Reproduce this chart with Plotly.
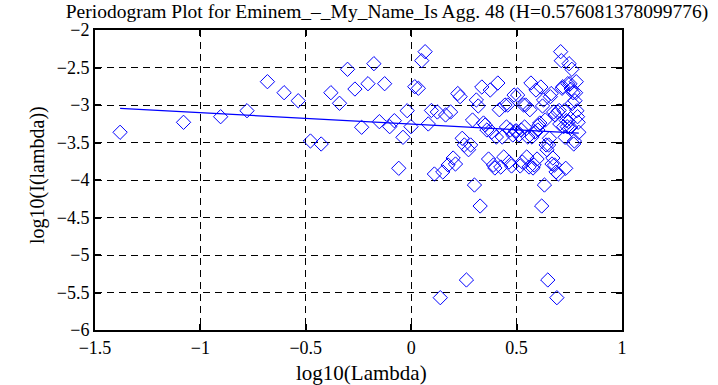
import plotly.graph_objects as go

# Periodogram values (log10 frequency, log10 periodogram), low half k=1..75
x_low = [-1.381, -1.080, -0.904, -0.779, -0.682, -0.603, -0.536, -0.478, -0.427, -0.381,
         -0.340, -0.302, -0.267, -0.235, -0.205, -0.177, -0.151, -0.126, -0.102, -0.080,
         -0.059, -0.039, -0.019, -0.001, 0.017, 0.034, 0.050, 0.066, 0.081, 0.096,
         0.110, 0.124, 0.138, 0.150, 0.163, 0.175, 0.187, 0.199, 0.210, 0.221,
         0.232, 0.242, 0.252, 0.262, 0.272, 0.282, 0.291, 0.300, 0.309, 0.318,
         0.327, 0.335, 0.343, 0.351, 0.359, 0.367, 0.375, 0.382, 0.390, 0.397,
         0.404, 0.411, 0.418, 0.425, 0.432, 0.439, 0.445, 0.452, 0.458, 0.464,
         0.470, 0.476, 0.482, 0.488, 0.494]
y_low = [-3.364, -3.231, -3.156, -3.076, -2.689, -2.836, -2.943, -3.480, -3.520, -2.836,
         -2.977, -2.524, -2.787, -3.297, -2.716, -2.449, -3.222, -2.716, -3.289, -3.209,
         -3.844, -3.431, -3.076, -3.289, -2.756, -2.777, -2.409, -2.289, -3.253, -3.073,
         -3.920, -3.093, -5.569, -3.893, -3.133, -3.800, -3.093, -3.707, -3.787, -2.847,
         -2.889, -3.444, -3.533, -5.333, -3.596, -3.533, -3.200, -4.067, -2.933, -3.013,
         -4.347, -2.760, -3.240, -3.267, -3.333, -3.720, -2.800, -3.360, -3.800, -3.840,
         -3.427, -2.707, -3.063, -3.827, -3.427, -3.693, -3.000, -3.293, -3.000, -3.760,
         -3.333, -3.813, -3.400, -2.867, -3.347]

# High half k=76..150
x_high = [0.500, 0.505, 0.511, 0.517, 0.522, 0.527, 0.533, 0.538, 0.543, 0.548,
          0.553, 0.559, 0.563, 0.568, 0.573, 0.578, 0.583, 0.587, 0.592, 0.597,
          0.601, 0.606, 0.610, 0.615, 0.619, 0.623, 0.628, 0.632, 0.636, 0.640,
          0.644, 0.648, 0.652, 0.656, 0.660, 0.664, 0.668, 0.672, 0.676, 0.680,
          0.683, 0.687, 0.691, 0.695, 0.698, 0.702, 0.705, 0.709, 0.712, 0.716,
          0.719, 0.723, 0.726, 0.730, 0.733, 0.736, 0.740, 0.743, 0.746, 0.749,
          0.753, 0.756, 0.759, 0.762, 0.765, 0.768, 0.771, 0.774, 0.777, 0.780,
          0.783, 0.786, 0.789, 0.792, 0.795]
y_high = [-3.347, -2.867, -3.400, -3.813, -3.333, -3.760, -3.000, -3.293, -3.000, -3.693,
          -3.427, -3.827, -3.063, -2.707, -3.427, -3.840, -3.800, -3.360, -2.800, -3.720,
          -3.333, -3.267, -3.240, -2.760, -4.347, -3.013, -2.933, -4.067, -3.200, -3.533,
          -3.596, -5.333, -3.533, -3.444, -2.889, -2.847, -3.787, -3.707, -3.093, -3.800,
          -3.133, -3.893, -5.569, -3.093, -3.920, -3.073, -3.253, -2.289, -2.409, -2.777,
          -2.756, -3.289, -3.076, -3.431, -3.844, -3.209, -3.289, -2.716, -3.222, -2.449,
          -2.716, -3.297, -2.787, -2.524, -2.977, -2.836, -3.520, -3.480, -2.943, -2.836,
          -2.689, -3.076, -3.156, -3.231, -3.364]

# Fit line parameters
H = 0.576081378099776
fit_intercept = -3.254

x_tick_vals = [-1.5, -1, -0.5, 0, 0.5, 1]
x_tick_text = ["\u22121.5", "\u22121", "\u22120.5", "0", "0.5", "1"]
y_tick_vals = [-6, -5.5, -5, -4.5, -4, -3.5, -3, -2.5, -2]
y_tick_text = ["\u22126", "\u22125.5", "\u22125", "\u22124.5", "\u22124",
               "\u22123.5", "\u22123", "\u22122.5", "\u22122"]

x_all = x_low + x_high
y_all = y_low + y_high
slope = 1 - 2 * H
line_x = [min(x_all), max(x_all)]
line_y = [fit_intercept + slope * v for v in line_x]

FONT = "Liberation Serif"
W, Hh = 718, 385
ml, mr, mt, mb = 95, 96, 30, 55
PW, PH = W - ml - mr, Hh - mt - mb

fig = go.Figure()
fig.add_trace(go.Scatter(x=x_all, y=y_all, mode="markers",
                         marker=dict(symbol="diamond-open", size=11, color="#0000ff",
                                     line=dict(width=1, color="#0000ff")),
                         showlegend=False))
fig.add_trace(go.Scatter(x=line_x, y=line_y, mode="lines",
                         line=dict(color="#0000ff", width=1.3), showlegend=False))

axis_common = dict(showline=True, linecolor="black", linewidth=2, mirror="allticks",
                   ticks="inside", ticklen=6, tickwidth=2, tickcolor="black",
                   showgrid=True, gridcolor="black", gridwidth=1, griddash="7px,5px",
                   zeroline=False, tickfont=dict(family=FONT, size=18, color="black"))

fig.update_layout(
    width=W, height=Hh,
    margin=dict(l=ml, r=mr, t=mt, b=mb, pad=0),
    paper_bgcolor="white", plot_bgcolor="white",
    xaxis=dict(range=[-1.5, 1], tickvals=x_tick_vals, ticktext=x_tick_text, **axis_common),
    yaxis=dict(range=[-6, -2], tickvals=y_tick_vals, ticktext=y_tick_text, **axis_common),
    title=dict(text="Periodogram Plot for Eminem_\u2013_My_Name_Is Agg. 48 (H=0.576081378099776)",
               x=387 / W, xanchor="center", xref="container",
               y=1 - 11 / Hh, yanchor="middle", yref="container",
               font=dict(family=FONT, size=19.5, color="black")),
    annotations=[
        dict(text="log10(Lambda)", xref="paper", yref="paper",
             x=(361 - ml) / PW, y=-(373 - 330) / PH, xanchor="center", yanchor="middle",
             showarrow=False, font=dict(family=FONT, size=21, color="black")),
        dict(text="log10(I(lambda))", xref="paper", yref="paper",
             x=(38 - ml) / PW, y=(330 - 175) / PH, xanchor="center", yanchor="middle",
             textangle=-90, showarrow=False, font=dict(family=FONT, size=20, color="black")),
    ],
)

fig.write_html("out.html", config={"displayModeBar": False},
               post_script="document.body.style.margin='0';document.body.style.overflow='hidden';")
